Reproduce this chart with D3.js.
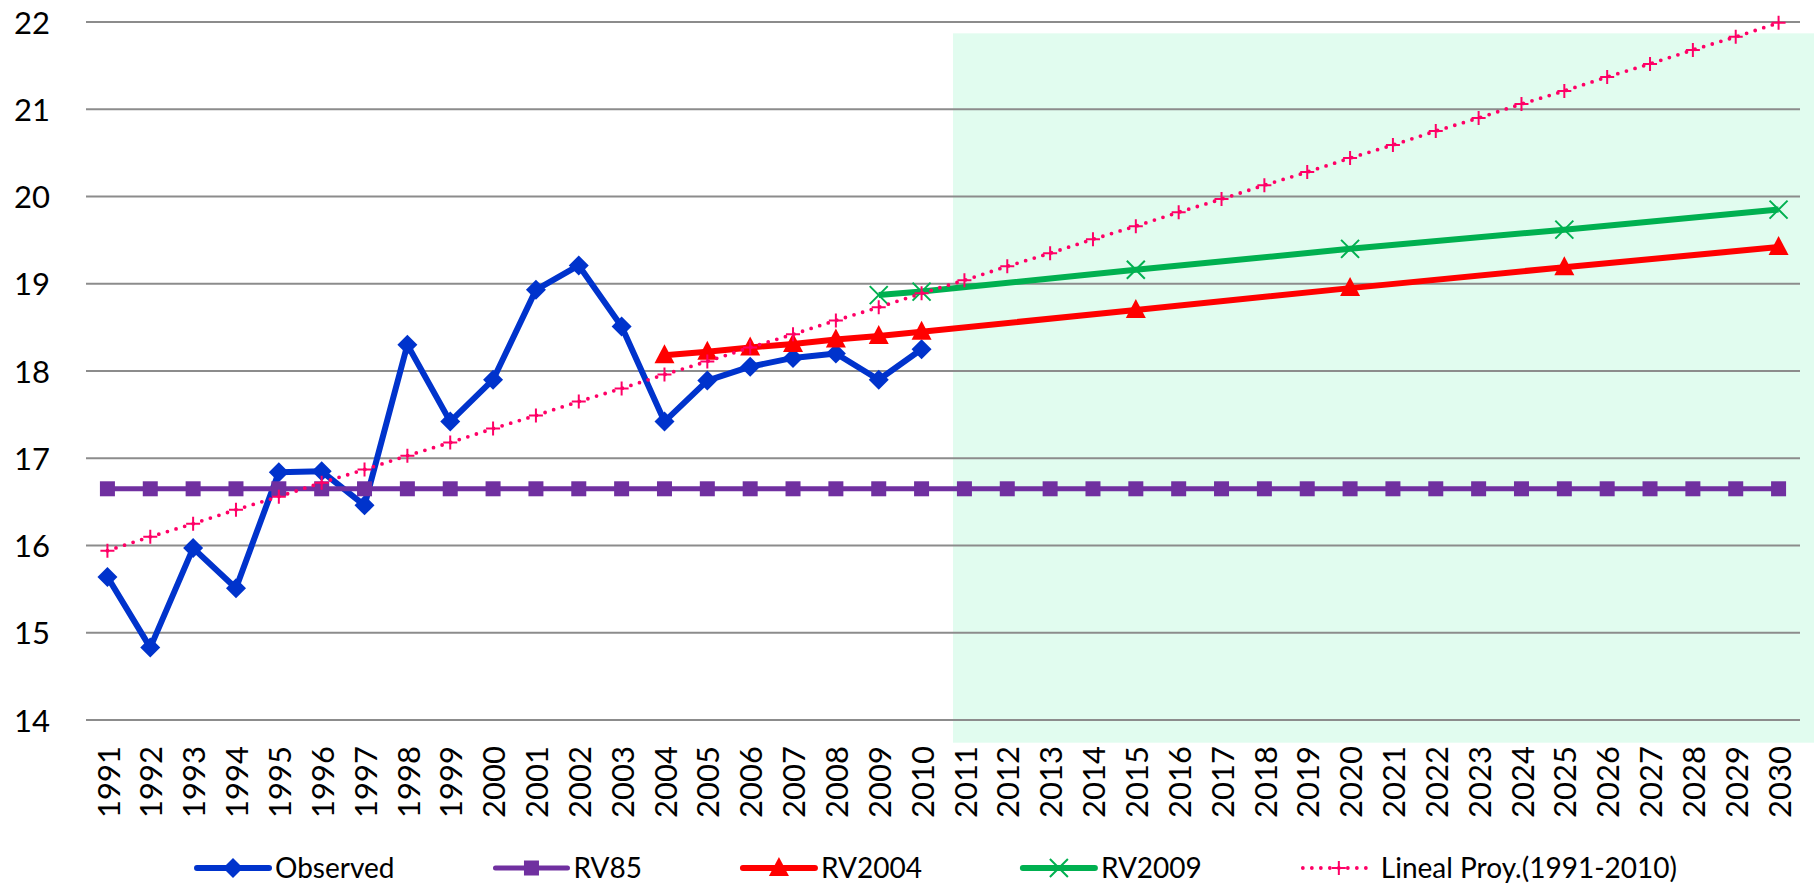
<!DOCTYPE html>
<html>
<head>
<meta charset="utf-8">
<script src="https://cdn.jsdelivr.net/npm/d3@7"></script>
<style>
  html, body { margin: 0; padding: 0; background: #fff; }
  svg { display: block; font-family: Lato, "Open Sans", sans-serif; }
</style>
</head>
<body>
<svg id="chart" width="1814" height="886"></svg>
<script>
// categories
const years = d3.range(1991, 2031).map(String);
const yTicks = [14, 15, 16, 17, 18, 19, 20, 21, 22];

// series values
const observedYears = ["1991","1992","1993","1994","1995","1996","1997","1998","1999","2000",
                       "2001","2002","2003","2004","2005","2006","2007","2008","2009","2010"];
const observed = [15.64, 14.83, 15.97, 15.51, 16.84, 16.85, 16.46, 18.30, 17.42, 17.90,
                  18.93, 19.21, 18.51, 17.42, 17.89, 18.05, 18.15, 18.20, 17.90, 18.25];

const rv85 = [16.65, 16.65, 16.65, 16.65, 16.65, 16.65, 16.65, 16.65, 16.65, 16.65,
              16.65, 16.65, 16.65, 16.65, 16.65, 16.65, 16.65, 16.65, 16.65, 16.65,
              16.65, 16.65, 16.65, 16.65, 16.65, 16.65, 16.65, 16.65, 16.65, 16.65,
              16.65, 16.65, 16.65, 16.65, 16.65, 16.65, 16.65, 16.65, 16.65, 16.65];

const rv2004Years = ["2004","2005","2006","2007","2008","2009","2010","2015","2020","2025","2030"];
const rv2004 = [18.18, 18.22, 18.27, 18.31, 18.36, 18.40, 18.45, 18.70, 18.95, 19.19, 19.42];

const rv2009Years = ["2009","2010","2015","2020","2025","2030"];
const rv2009 = [18.87, 18.91, 19.16, 19.40, 19.62, 19.85];

const lineal = [15.94, 16.10, 16.25, 16.41, 16.56, 16.72, 16.87, 17.03, 17.18, 17.34,
                17.49, 17.65, 17.80, 17.96, 18.11, 18.27, 18.42, 18.58, 18.73, 18.89,
                19.04, 19.20, 19.35, 19.51, 19.66, 19.82, 19.97, 20.13, 20.28, 20.44,
                20.59, 20.75, 20.90, 21.06, 21.21, 21.37, 21.52, 21.68, 21.83, 21.99];

const legendNames = ["Observed", "RV85", "RV2004", "RV2009", "Lineal Proy.(1991-2010)"];

// projection period shading (value range it covers)
const shadeFrom = "2011";
const shadeTop = 21.87;
const shadeBottom = 13.74;

const width = 1814, height = 886;
const margin = { left: 86, right: 14, top: 22, bottom: 166 };

const svg = d3.select("#chart");

const xScale = d3.scaleBand()
                 .domain(years)
                 .range([margin.left, width - margin.right]);
const yScale = d3.scaleLinear()
                 .domain([14, 22])
                 .range([height - margin.bottom, margin.top]);
const cx = d => xScale(d) + xScale.bandwidth() / 2;

// green shaded area for the projection years
svg.append("rect")
   .attr("x", xScale(shadeFrom) + 10)
   .attr("y", yScale(shadeTop))
   .attr("width", width - xScale(shadeFrom) - 10)
   .attr("height", yScale(shadeBottom) - yScale(shadeTop))
   .attr("fill", "#e1fcef");

// gridlines
svg.append("g")
   .selectAll("line")
   .data(yTicks)
   .enter()
   .append("line")
   .attr("x1", margin.left)
   .attr("x2", width - margin.right)
   .attr("y1", d => yScale(d))
   .attr("y2", d => yScale(d))
   .attr("stroke", "#8c8c8c")
   .attr("stroke-width", 2);

// y axis labels
const yAxis = svg.append("g")
                 .attr("transform", `translate(${margin.left - 36}, 0)`)
                 .call(d3.axisLeft(yScale).tickValues(yTicks).tickSize(0).tickPadding(0));
yAxis.select(".domain").remove();
yAxis.selectAll("text")
     .attr("font-family", "Lato, sans-serif")
     .attr("font-size", 31)
     .attr("fill", "#000")
     .attr("dy", "0.36em");

// x axis labels, rotated
svg.append("g")
   .selectAll("text")
   .data(years)
   .enter()
   .append("text")
   .attr("transform", d => `translate(${cx(d) + 1}, ${yScale(14) + 26}) rotate(-90)`)
   .attr("text-anchor", "end")
   .attr("dy", "0.36em")
   .attr("font-size", 31)
   .attr("fill", "#000")
   .text(d => d);

// marker painters
const markers = {
  diamond: (g, color) => g.append("path").attr("d", "M0,-10L10,0L0,10L-10,0Z").attr("fill", color),
  square: (g, color) => g.append("rect").attr("x", -7.5).attr("y", -7.5)
                          .attr("width", 15).attr("height", 15).attr("fill", color),
  triangle: (g, color) => g.append("path").attr("d", "M0,-11L10,8L-10,8Z").attr("fill", color),
  cross: (g, color) => g.append("path").attr("d", "M-9,-9L9,9M-9,9L9,-9")
                         .attr("stroke", color).attr("stroke-width", 2).attr("fill", "none"),
  plus: (g, color) => g.append("path").attr("d", "M-7,0L7,0M0,-7L0,7")
                        .attr("stroke", color).attr("stroke-width", 2).attr("fill", "none")
};

const series = [
  { name: legendNames[0], cats: observedYears, values: observed, color: "#0033cc", width: 6, dash: null, marker: "diamond" },
  { name: legendNames[1], cats: years, values: rv85, color: "#7030a0", width: 5, dash: null, marker: "square" },
  { name: legendNames[2], cats: rv2004Years, values: rv2004, color: "#ff0000", width: 6, dash: null, marker: "triangle" },
  { name: legendNames[3], cats: rv2009Years, values: rv2009, color: "#00b050", width: 6, dash: null, marker: "cross" },
  { name: legendNames[4], cats: years, values: lineal, color: "#ff0066", width: 3.8, dash: "0 9", marker: "plus" }
];

const line = d3.line()
               .x(d => cx(d.cat))
               .y(d => yScale(d.v));

series.forEach(s => {
  const pts = s.cats.map((c, i) => ({ cat: c, v: s.values[i] }));
  const g = svg.append("g");
  g.append("path")
   .datum(pts)
   .attr("d", line)
   .attr("fill", "none")
   .attr("stroke", s.color)
   .attr("stroke-width", s.width)
   .attr("stroke-linejoin", "round")
   .attr("stroke-linecap", s.dash ? "round" : "butt")
   .attr("stroke-dasharray", s.dash);
  pts.forEach(p => {
    const m = g.append("g").attr("transform", `translate(${cx(p.cat)}, ${yScale(p.v)})`);
    markers[s.marker](m, s.color);
  });
});

// legend
const legend = svg.append("g");
const legendY = 868;
const lineLen = 72, textGap = 6, itemGap = 101;
const items = series.map(s => {
  const g = legend.append("g");
  g.append("line")
   .attr("x1", 0).attr("x2", lineLen)
   .attr("y1", 0).attr("y2", 0)
   .attr("stroke", s.color)
   .attr("stroke-width", s.width)
   .attr("stroke-linecap", "round")
   .attr("stroke-dasharray", s.dash);
  const m = g.append("g").attr("transform", `translate(${lineLen / 2}, 0)`);
  markers[s.marker](m, s.color);
  const t = g.append("text")
             .attr("x", lineLen + textGap)
             .attr("y", 10)
             .attr("font-size", 28)
             .attr("fill", "#000")
             .text(s.name);
  return { g, w: lineLen + textGap + t.node().getComputedTextLength() };
});
const total = d3.sum(items, d => d.w) + itemGap * (items.length - 1);
let xpos = 937 - total / 2;
items.forEach(it => {
  it.g.attr("transform", `translate(${xpos}, ${legendY})`);
  xpos += it.w + itemGap;
});
</script>
</body>
</html>
